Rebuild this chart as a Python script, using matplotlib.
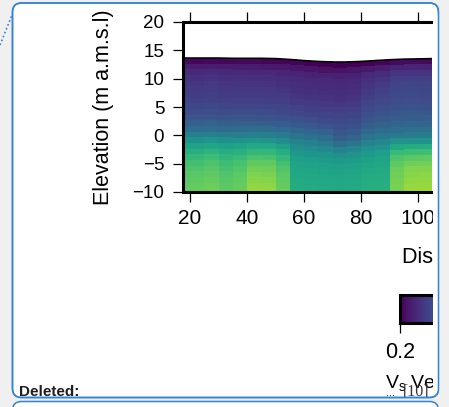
import numpy as np
import matplotlib.pyplot as plt
from matplotlib.patches import FancyBboxPatch, Rectangle
from matplotlib.lines import Line2D
from matplotlib.transforms import IdentityTransform
from matplotlib.cm import ScalarMappable
from matplotlib.colors import Normalize

plt.rcParams["font.family"] = ["Liberation Sans", "DejaVu Sans"]

# column edges along the profile (m) and ground surface at those edges (m a.m.s.l)
x_edges = [15, 20, 25, 30, 35, 40, 45, 50, 55, 60, 65, 70, 75, 80, 85, 90, 95, 100, 105, 110]
surface_elev = [13.65, 13.65, 13.65, 13.65, 13.6, 13.6, 13.6, 13.55, 13.4, 13.2,
                13.05, 12.95, 12.95, 13.05, 13.2, 13.35, 13.45, 13.5, 13.55, 13.6]
depth_edges = list(range(0, 25))

# Vs (m/s) per 5 m column, from 0-1 m depth down to 23-24 m depth
vs_columns = [
    [210, 236, 252, 262, 268, 272, 276, 280, 288, 296, 308, 324, 344, 372, 404, 432, 452, 468, 480, 488, 494, 498, 502, 504],
    [206, 230, 246, 254, 262, 266, 270, 276, 284, 292, 304, 320, 342, 370, 402, 430, 452, 468, 480, 488, 496, 500, 504, 508],
    [208, 234, 250, 258, 266, 270, 274, 278, 286, 294, 306, 322, 342, 372, 408, 436, 458, 474, 486, 494, 500, 506, 510, 512],
    [206, 230, 246, 254, 260, 264, 268, 274, 282, 290, 302, 318, 338, 366, 398, 426, 446, 462, 474, 482, 490, 494, 498, 500],
    [208, 232, 248, 256, 262, 266, 270, 276, 284, 292, 304, 320, 340, 368, 402, 432, 454, 470, 484, 492, 498, 502, 504, 506],
    [208, 230, 246, 254, 262, 266, 270, 276, 284, 292, 304, 320, 342, 372, 408, 442, 466, 486, 502, 514, 522, 528, 534, 538],
    [206, 228, 244, 252, 260, 264, 268, 274, 282, 290, 302, 318, 340, 370, 406, 440, 464, 484, 500, 512, 520, 526, 532, 536],
    [204, 226, 242, 250, 256, 260, 266, 272, 280, 288, 300, 316, 336, 364, 396, 426, 448, 466, 480, 490, 498, 502, 506, 508],
    [204, 224, 240, 248, 252, 256, 260, 268, 276, 284, 296, 312, 332, 352, 376, 396, 412, 424, 432, 436, 440, 444, 444, 448],
    [202, 222, 238, 246, 250, 254, 258, 266, 274, 282, 294, 310, 330, 350, 374, 394, 410, 422, 430, 436, 440, 442, 444, 446],
    [200, 220, 236, 244, 248, 252, 258, 264, 272, 280, 290, 304, 322, 342, 364, 388, 406, 420, 428, 434, 438, 440, 442, 444],
    [200, 220, 236, 244, 248, 252, 256, 264, 272, 280, 288, 296, 308, 320, 344, 376, 400, 416, 428, 432, 436, 440, 440, 444],
    [200, 222, 238, 246, 250, 254, 258, 266, 274, 282, 290, 300, 312, 328, 354, 384, 406, 420, 430, 434, 438, 440, 442, 444],
    [202, 226, 244, 254, 262, 268, 274, 280, 288, 296, 306, 318, 334, 354, 378, 400, 416, 428, 436, 440, 444, 446, 448, 448],
    [204, 230, 250, 262, 270, 276, 280, 286, 294, 302, 312, 324, 340, 360, 384, 406, 422, 432, 438, 442, 446, 448, 450, 450],
    [212, 240, 260, 272, 280, 284, 288, 292, 300, 308, 316, 328, 344, 364, 400, 440, 470, 488, 500, 508, 512, 516, 518, 520],
    [212, 242, 262, 274, 282, 286, 290, 294, 302, 310, 318, 330, 346, 366, 400, 446, 476, 498, 512, 522, 528, 532, 536, 538],
    [210, 240, 260, 272, 280, 284, 288, 292, 300, 308, 316, 328, 344, 366, 402, 448, 478, 500, 514, 524, 530, 534, 538, 540],
    [210, 238, 258, 270, 278, 282, 286, 290, 298, 306, 314, 326, 342, 364, 400, 444, 474, 496, 510, 520, 526, 530, 534, 536],
]

x_ticks = [20, 40, 60, 80, 100]
y_ticks = [-10, -5, 0, 5, 10, 15, 20]
cbar_ticks = [0.2, 0.4, 0.6]

W, H = 449, 407
BLUE = "#3483d6"
GREY = "#f0f0f0"
BOX_TOP, BOX_BOTTOM = 3, 397.5


def fpos(left, top, right, bottom):
    # image pixel box -> figure fraction [l, b, w, h]
    return [left / W, (H - bottom) / H, (right - left) / W, (bottom - top) / H]


fig = plt.figure(figsize=(W / 100, H / 100), dpi=100, facecolor=GREY)
ident = IdentityTransform()

# comment balloon boxes
fig.patches.append(FancyBboxPatch((12.5, H - BOX_BOTTOM), 426, BOX_BOTTOM - BOX_TOP,
                                  boxstyle="round,pad=0,rounding_size=9",
                                  transform=ident, fc="white", ec=BLUE, lw=1.1, zorder=-2))
fig.patches.append(FancyBboxPatch((12.5, -30), 426, H - 401.5 + 30,
                                  boxstyle="round,pad=0,rounding_size=9",
                                  transform=ident, fc="white", ec=BLUE, lw=1.1, zorder=-2))
fig.lines.append(Line2D([0, 12], [H - 45, H - 15], transform=ident,
                        color=BLUE, lw=1.2, ls=(0, (1, 1.5))))

# velocity section
ax = fig.add_axes(fpos(183, 22, 432, 192))
X = np.tile(np.array(x_edges, dtype=float), (len(depth_edges), 1))
Y = np.array(surface_elev)[None, :] - np.array(depth_edges, dtype=float)[:, None]
C = np.array(vs_columns).T / 1000.0
norm = Normalize(vmin=0.2, vmax=0.6)
ax.pcolormesh(X, Y, C, cmap="viridis", norm=norm, shading="flat")
ax.plot(x_edges, surface_elev, color="black", lw=1.1)

ax.set_xlim(17.54, 104.9)
ax.set_ylim(-10, 20)
ax.set_xticks(x_ticks)
ax.set_yticks(y_ticks)
ax.spines["right"].set_visible(False)
for s in ["left", "top", "bottom"]:
    ax.spines[s].set_linewidth(2.2)
ax.tick_params(direction="out", length=7.5, width=0.9, colors="black")
ax.tick_params(axis="x", top=True, labelsize=15, pad=5)
ax.tick_params(axis="y", labelsize=13.5, pad=6)

fig.text(104 / W, (H - 107) / H, "Elevation (m a.m.s.l)", rotation=90,
         ha="center", va="center", fontsize=15.5)
fig.text(401.5 / W, (H - 262.5) / H, "Distance (m)", ha="left", va="baseline", fontsize=15.5)

# colour bar
cax = fig.add_axes(fpos(400, 295, 545, 323))
cb = fig.colorbar(ScalarMappable(norm=norm, cmap="viridis"), cax=cax,
                  orientation="horizontal", ticks=cbar_ticks)
cb.outline.set_linewidth(2.2)
cax.tick_params(length=7, width=0.9, labelsize=15.5, pad=7)
fig.text(385 / W, (H - 388) / H, r"V$_{\mathregular{s}}$ Velocity (km/s)",
         ha="left", va="baseline", fontsize=14)

# tracked-change annotations
fig.text(402.5 / W, (H - 396) / H, "[10]", family="Liberation Serif", fontsize=11.5,
         color="#333333", ha="left", va="baseline", zorder=4)
fig.text(386 / W, (H - 396) / H, "...", fontsize=8, ha="left", va="baseline")
fig.text(19.5 / W, (H - 396) / H, "Deleted:", fontsize=11, weight="bold",
         color="#1e1e1e", ha="left", va="baseline", zorder=7)

# balloon crops the figure on the right
fig.patches.append(Rectangle((432.5, H - 393), 5.2, 379, transform=ident,
                             fc="white", ec="none", zorder=5))
fig.patches.append(Rectangle((439.3, 0), 12, H, transform=ident,
                             fc=GREY, ec="none", zorder=5))
fig.patches.append(FancyBboxPatch((12.5, H - BOX_BOTTOM), 426, BOX_BOTTOM - BOX_TOP,
                                  boxstyle="round,pad=0,rounding_size=9",
                                  transform=ident, fc="none", ec=BLUE, lw=1.1, zorder=6))

fig.savefig("out.png", dpi=100, facecolor=GREY)
